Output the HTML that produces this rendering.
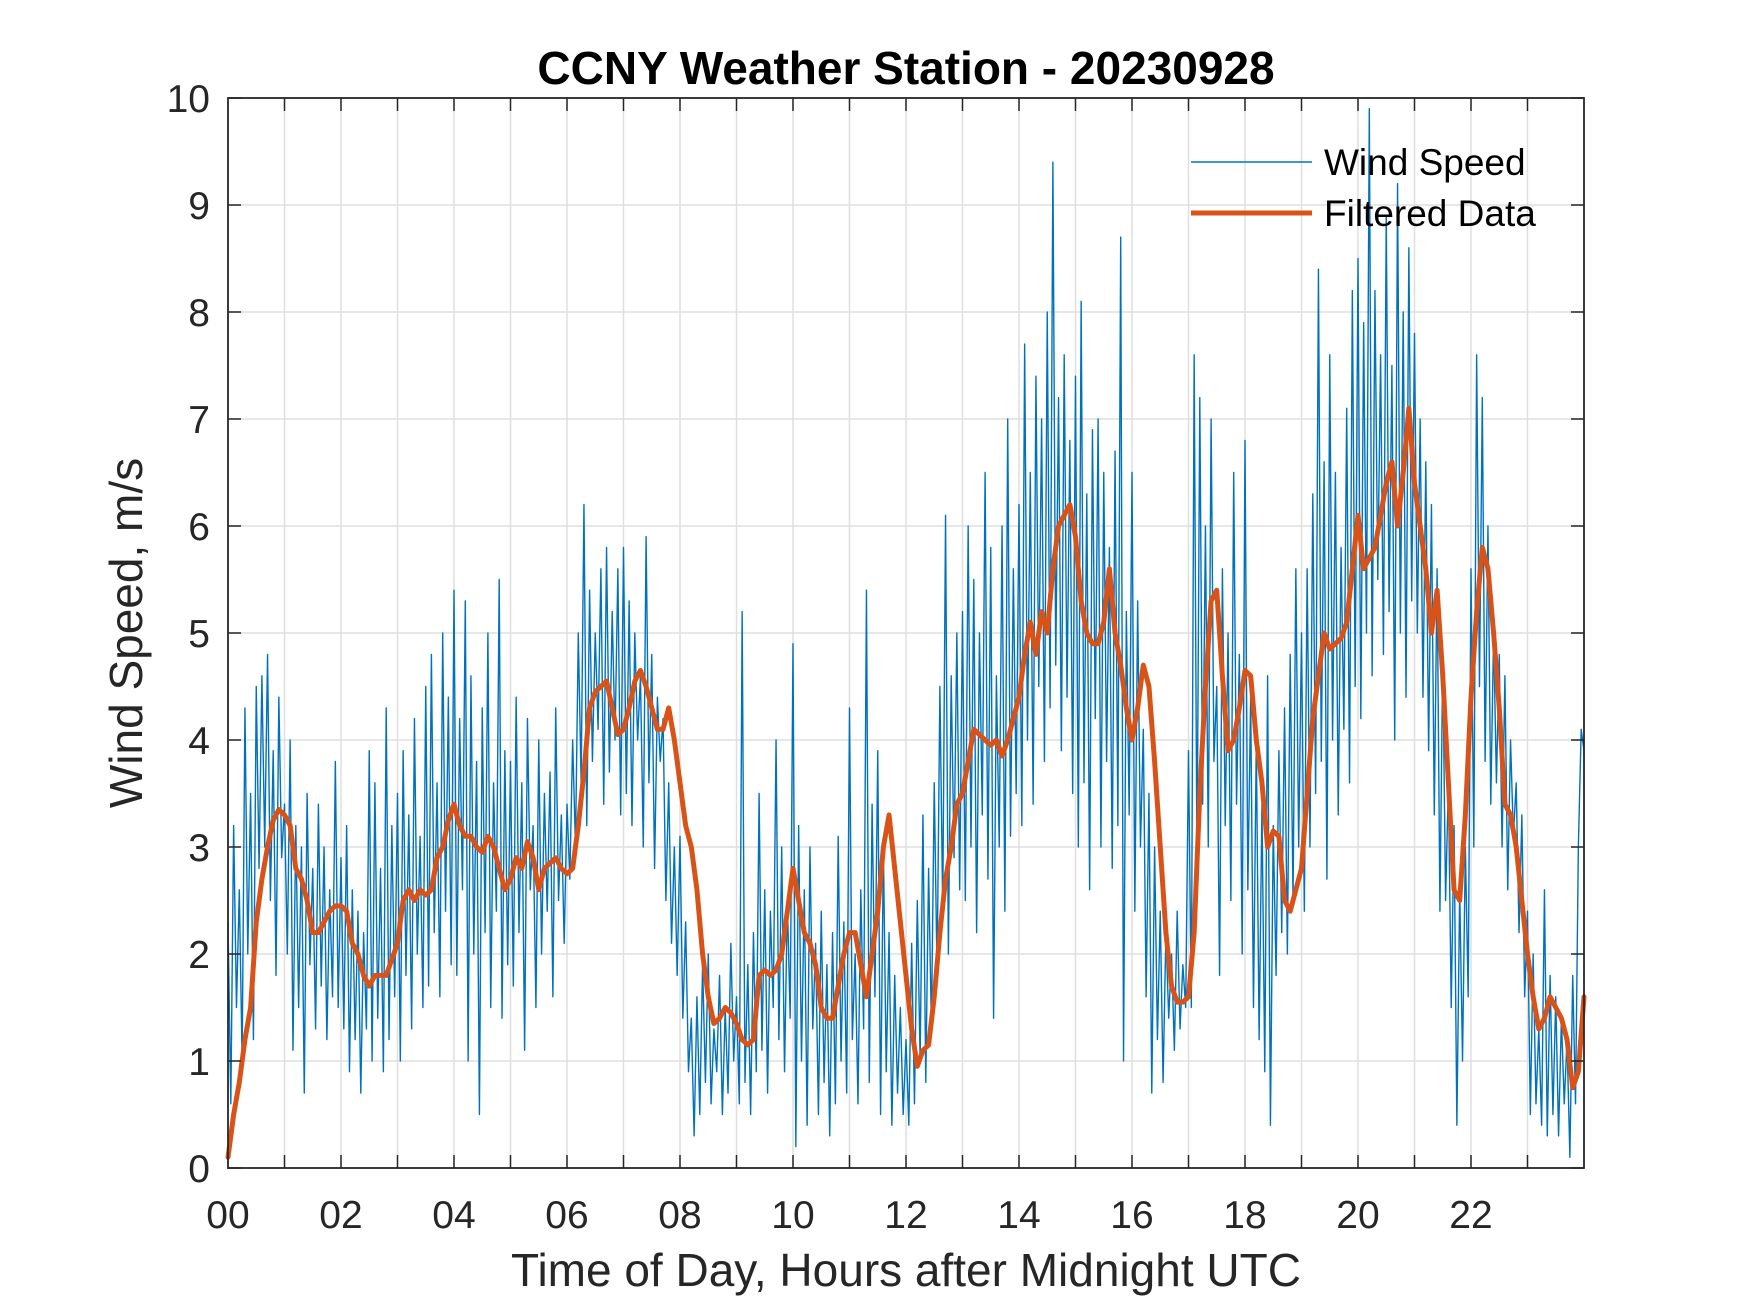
<!DOCTYPE html>
<html><head><meta charset="utf-8"><style>
html,body{margin:0;padding:0;background:#fff}
svg{display:block}
text{font-family:"Liberation Sans",Arial,sans-serif;fill:#262626}
</style></head><body>
<svg id="chart" width="1750" height="1313" viewBox="0 0 1750 1313" xmlns="http://www.w3.org/2000/svg">
<text x="906" y="84" text-anchor="middle" font-size="46" font-weight="bold" style="fill:#000">CCNY Weather Station - 20230928</text>
<g id="grid"></g>
<g id="series"></g>
<g id="axes"></g>
<text x="906" y="1286" text-anchor="middle" font-size="46">Time of Day, Hours after Midnight UTC</text>
<text transform="translate(142,633) rotate(-90)" text-anchor="middle" font-size="46">Wind Speed, m/s</text>
<g>
<line x1="1191" y1="162" x2="1312" y2="162" stroke="#0072BD" stroke-width="1.5"/>
<text x="1324" y="175" font-size="37" style="fill:#000">Wind Speed</text>
<line x1="1191" y1="213" x2="1312" y2="213" stroke="#D95319" stroke-width="5"/>
<text x="1324" y="226" font-size="37" style="fill:#000">Filtered Data</text>
</g>
</svg>
<script>
const xTickLabels=["00","02","04","06","08","10","12","14","16","18","20","22"];
const yTickLabels=["0","1","2","3","4","5","6","7","8","9","10"];
const rawStep=0.05;
const rawValues=[
2.3,0.6,3.2,1.5,2.6,1.0,4.3,2.0,3.5,1.2,4.5,2.8,4.6,3.0,4.8,2.5,3.9,1.8,4.4,2.9,
3.4,2.0,4.0,1.1,3.2,1.5,3.0,0.7,3.5,1.9,2.8,1.3,3.4,1.7,3.0,1.2,2.6,1.6,3.8,1.5,
2.9,1.3,3.2,0.9,2.6,1.2,2.4,0.7,2.2,1.3,3.9,1.0,3.6,1.4,2.8,0.9,4.3,1.2,3.2,1.6,
3.5,1.0,3.9,1.8,3.3,1.3,4.2,2.0,3.1,1.5,4.5,1.7,4.8,2.2,3.6,1.6,5.0,2.4,4.4,1.9,
5.4,1.8,4.2,2.6,5.3,1.0,4.6,2.0,3.8,0.5,4.3,2.2,5.0,1.5,3.6,2.4,5.5,1.4,3.9,1.9,
3.8,1.7,4.4,2.2,3.6,1.1,4.2,2.6,3.2,1.5,4.0,2.0,3.5,2.4,3.7,1.6,4.3,2.5,3.3,2.1,
3.4,2.7,4.0,3.0,5.0,3.6,6.2,3.2,5.4,3.8,5.0,4.1,5.6,3.4,5.8,3.7,5.2,4.0,5.6,3.3,
5.8,3.5,5.3,3.2,5.0,4.0,4.6,3.0,5.9,3.6,4.8,2.8,4.4,3.8,4.2,2.5,3.6,2.1,3.0,1.8,
3.1,1.4,2.3,0.9,1.4,0.3,1.6,0.5,1.9,0.8,2.0,0.6,1.3,0.9,1.8,0.5,1.5,0.7,2.1,1.0,
1.6,0.6,5.2,0.8,1.9,0.5,2.2,0.9,3.5,1.1,2.6,0.7,2.4,1.5,4.0,1.2,3.0,0.9,2.5,1.4,
4.9,0.2,3.2,1.0,2.6,0.4,3.0,1.3,2.1,0.5,2.4,0.8,1.9,0.3,2.2,0.6,3.1,1.0,2.3,0.7,
4.3,1.2,2.0,0.6,2.6,1.3,5.4,0.8,3.4,1.6,3.9,0.5,3.0,0.9,2.2,0.4,1.8,0.7,1.5,0.5,
1.2,0.4,2.1,0.6,2.5,1.0,3.3,0.8,2.8,1.3,3.6,1.8,4.5,2.4,6.1,2.0,4.6,2.9,5.0,2.6,
5.2,2.5,6.0,3.0,5.5,2.2,5.0,3.3,6.5,2.7,5.8,1.4,4.6,3.0,6.0,2.4,7.0,3.1,5.6,3.5,
6.2,3.2,7.7,4.0,6.5,3.4,7.4,4.5,7.0,3.8,8.0,4.3,9.4,4.7,7.2,3.9,7.6,4.4,6.8,3.5,
7.4,3.0,8.1,3.6,6.3,2.6,6.9,4.2,7.0,3.0,6.5,3.8,5.8,2.8,6.7,3.2,8.7,1.0,5.2,3.3,
6.5,2.4,5.3,3.0,4.1,1.6,3.5,0.7,3.0,1.2,2.4,0.8,2.2,1.4,2.0,1.1,2.4,1.3,1.9,1.5,
3.9,1.5,7.6,2.8,7.2,3.4,6.0,3.0,7.0,3.8,4.5,1.8,5.6,3.2,5.0,2.5,6.5,3.4,4.8,2.0,
6.8,2.6,4.4,1.5,4.0,1.2,3.4,0.9,4.6,0.4,3.2,1.8,3.9,2.2,4.3,2.0,4.8,2.5,5.6,3.0,
5.0,2.4,5.6,3.0,6.3,3.5,8.4,3.8,6.6,2.7,7.6,4.0,6.5,3.3,5.8,4.1,7.1,3.6,8.2,4.5,
8.5,4.2,7.9,5.0,9.9,4.6,8.2,5.5,7.6,4.8,8.9,5.2,7.5,4.0,9.2,5.0,8.0,4.4,8.6,5.3,
7.8,5.0,7.0,4.4,6.6,3.9,6.2,3.3,5.6,2.4,4.8,2.5,3.6,1.5,3.2,0.4,2.6,1.0,3.0,1.6,
5.6,3.0,7.6,4.5,7.2,3.8,6.0,3.4,5.0,3.6,4.8,3.0,4.6,2.6,4.0,3.1,3.6,2.2,3.3,1.6,
2.4,0.5,2.0,0.6,1.3,0.4,2.6,0.3,1.8,0.5,1.6,0.3,1.4,0.6,1.2,0.1,1.8,0.6,3.0,4.1,
3.9];
const filtStep=0.1;
const filteredValues=[
0.1,0.5,0.8,1.2,1.5,2.3,2.7,3.0,3.25,3.35,3.3,3.2,2.8,2.7,2.5,2.2,2.2,2.3,2.4,2.45,
2.45,2.4,2.1,2.0,1.8,1.7,1.8,1.8,1.8,1.95,2.1,2.5,2.6,2.5,2.6,2.55,2.6,2.9,3.0,3.25,
3.4,3.2,3.1,3.1,3.0,2.95,3.1,3.0,2.8,2.6,2.7,2.9,2.8,3.05,2.9,2.6,2.8,2.85,2.9,2.8,
2.75,2.8,3.2,3.7,4.3,4.45,4.5,4.55,4.3,4.05,4.1,4.3,4.55,4.65,4.5,4.3,4.1,4.1,4.3,4.0,
3.6,3.2,3.0,2.6,2.0,1.6,1.35,1.4,1.5,1.45,1.35,1.2,1.15,1.2,1.8,1.85,1.8,1.85,2.0,2.4,
2.8,2.5,2.2,2.1,1.9,1.5,1.4,1.4,1.7,2.0,2.2,2.2,1.9,1.6,2.0,2.4,3.0,3.3,2.8,2.3,
1.8,1.3,0.95,1.1,1.15,1.6,2.2,2.7,3.0,3.4,3.5,3.8,4.1,4.05,4.0,3.95,4.0,3.85,4.0,4.2,
4.4,4.8,5.1,4.8,5.2,5.0,5.6,6.0,6.1,6.2,5.9,5.3,5.0,4.9,4.9,5.1,5.6,5.0,4.7,4.3,
4.0,4.3,4.7,4.5,3.8,3.0,2.2,1.7,1.55,1.55,1.6,2.2,3.5,4.5,5.3,5.4,4.6,3.9,4.0,4.3,
4.65,4.6,4.0,3.6,3.0,3.15,3.1,2.5,2.4,2.6,2.8,3.5,4.2,4.6,5.0,4.85,4.9,4.95,5.1,5.6,
6.1,5.6,5.7,5.8,6.1,6.4,6.6,6.0,6.5,7.1,6.4,6.0,5.6,5.0,5.4,4.6,3.6,2.6,2.5,3.3,
4.4,5.2,5.8,5.6,5.0,4.3,3.4,3.3,3.0,2.5,2.0,1.6,1.3,1.4,1.6,1.5,1.4,1.2,0.75,0.9,
1.6];
const NS="http://www.w3.org/2000/svg";
const L=228,R=1584,T=98,B=1168,XMAX=24,YMAX=10;
function xs(h){return L+(R-L)*h/XMAX;}
function ys(v){return B-(B-T)*v/YMAX;}
function mk(tag,attrs,parent){const e=document.createElementNS(NS,tag);for(const k in attrs)e.setAttribute(k,attrs[k]);parent.appendChild(e);return e;}
const grid=document.getElementById('grid'),axes=document.getElementById('axes'),series=document.getElementById('series');
for(let h=1;h<XMAX;h++){
  const g=mk('line',{x1:xs(h),x2:xs(h),y1:T,y2:B,stroke:'#dfdfdf','stroke-width':1.5},grid);
  
  
  const t1=mk('line',{x1:xs(h),x2:xs(h),y1:B,y2:B-13,stroke:'#262626','stroke-width':1.5},axes);
  
  
  const t2=mk('line',{x1:xs(h),x2:xs(h),y1:T,y2:T+13,stroke:'#262626','stroke-width':1.5},axes);
  
  
}
yTickLabels.forEach((lab,i)=>{
  const v=+lab;
  if(v>0&&v<YMAX){
    const g=mk('line',{x1:L,x2:R,y1:ys(v),y2:ys(v),stroke:'#dfdfdf','stroke-width':1.5},grid);
    
    
  }
  const t1=mk('line',{x1:L,x2:L+13,y1:ys(v),y2:ys(v),stroke:'#262626','stroke-width':1.5},axes);
  
  
  const t2=mk('line',{x1:R,x2:R-13,y1:ys(v),y2:ys(v),stroke:'#262626','stroke-width':1.5},axes);
  
  
  const tx=mk('text',{x:L-18,y:ys(v)+14,'text-anchor':'end','font-size':39},axes);
  tx.textContent=lab;
  
  
});
xTickLabels.forEach(lab=>{
  const h=+lab;
  const tx=mk('text',{x:xs(h),y:1228,'text-anchor':'middle','font-size':39},axes);
  tx.textContent=lab;
  
  
});
const box=mk('rect',{x:L,y:T,width:R-L,height:B-T,fill:'none',stroke:'#262626','stroke-width':1.8},axes);


const raw=mk('polyline',{points:rawValues.map((v,i)=>xs(Math.min(i*rawStep,XMAX))+','+ys(v)).join(' '),fill:'none',stroke:'#0072BD','stroke-width':1.4,'stroke-linejoin':'round'},series);


const filt=mk('polyline',{points:filteredValues.map((v,i)=>xs(Math.min(i*filtStep,XMAX))+','+ys(v)).join(' '),fill:'none',stroke:'#D95319','stroke-width':5,'stroke-linejoin':'round','stroke-linecap':'round'},series);


</script>
</body></html>
